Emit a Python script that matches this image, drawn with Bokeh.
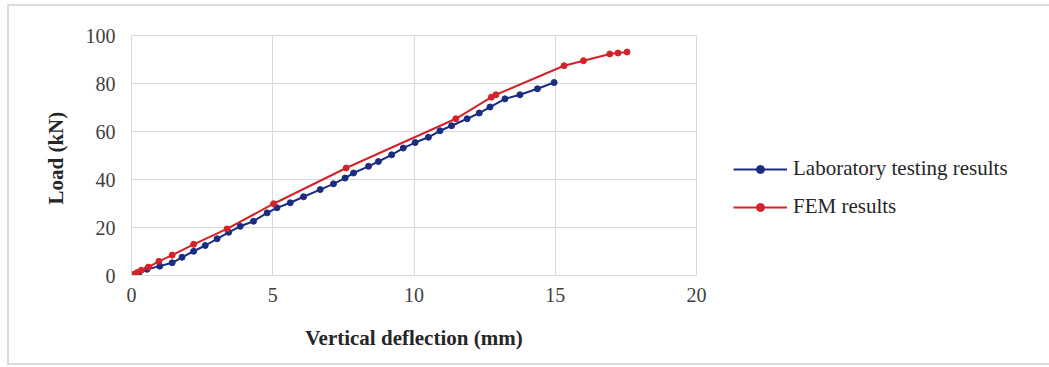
from bokeh.plotting import figure
from bokeh.models import Range1d, FixedTicker, Legend, LegendItem
from bokeh.embed import file_html
from bokeh.resources import INLINE

# Data
lab_x = [0.0, 0.25, 0.55, 1.0, 1.44, 1.79, 2.2, 2.61, 3.03, 3.44, 3.85, 4.32, 4.8, 5.15,
         5.62, 6.09, 6.68, 7.15, 7.56, 7.86, 8.39, 8.74, 9.21, 9.62, 10.04, 10.51, 10.92,
         11.33, 11.88, 12.31, 12.69, 13.22, 13.75, 14.37, 14.96]
lab_y = [0.0, 0.8, 2.6, 3.9, 5.3, 7.6, 10.1, 12.5, 15.3, 18.0, 20.5, 22.6, 26.1, 28.2,
         30.3, 32.8, 35.8, 38.2, 40.6, 42.7, 45.5, 47.5, 50.3, 53.1, 55.4, 57.6, 60.3,
         62.4, 65.3, 67.7, 70.2, 73.6, 75.3, 77.8, 80.4]

fem_x = [0.0, 0.08, 0.2, 0.35, 0.6, 0.97, 1.44, 2.2, 3.38, 5.03, 7.6, 11.48, 12.74, 12.9,
         15.31, 16.0, 16.93, 17.22, 17.54]
fem_y = [0.0, 0.5, 1.2, 2.2, 3.5, 5.9, 8.5, 13.0, 19.4, 29.9, 44.8, 65.3, 74.3, 75.3,
         87.4, 89.5, 92.3, 92.7, 93.1]

x_ticks = [0, 5, 10, 15, 20]
y_ticks = [0, 20, 40, 60, 80, 100]

series_names = ["Laboratory testing results", "FEM results"]
x_title = "Vertical deflection (mm)"
y_title = "Load  (kN)"

BLUE = "#1c2c7e"
RED = "#d2232a"
FONT = "Liberation Serif"

p = figure(frame_width=565, frame_height=240, output_backend="svg", toolbar_location=None,
           x_range=Range1d(0, 20), y_range=Range1d(0, 100),
           min_border_left=122, min_border_right=348, min_border_top=29, min_border_bottom=88)
p.styles = {"border": "2px solid #dcdcdc", "margin-left": "7px", "margin-top": "4px"}

p.outline_line_color = "#d9d9d9"
p.background_fill_color = "white"
p.border_fill_color = "white"

for ax in (p.xaxis[0], p.yaxis[0]):
    ax.axis_line_color = "#d9d9d9"
    ax.major_tick_line_color = None
    ax.minor_tick_line_color = None
    ax.major_tick_out = 0
    ax.major_tick_in = 0
    ax.major_label_text_font = FONT
    ax.major_label_text_font_size = "20px"
    ax.major_label_text_color = "#404040"
    ax.axis_label_text_font = FONT
    ax.axis_label_text_font_size = "21px"
    ax.axis_label_text_font_style = "bold"
    ax.axis_label_text_color = "#262626"

p.xaxis.ticker = FixedTicker(ticks=x_ticks)
p.yaxis.ticker = FixedTicker(ticks=y_ticks)
p.xaxis.axis_label = x_title
p.yaxis.axis_label = y_title
p.xaxis.major_label_standoff = 12
p.xaxis.axis_label_standoff = 21
p.yaxis.major_label_standoff = 16
p.yaxis.axis_label_standoff = 15

p.xgrid.ticker = FixedTicker(ticks=x_ticks)
p.ygrid.ticker = FixedTicker(ticks=y_ticks)
p.xgrid.grid_line_color = "#d9d9d9"
p.ygrid.grid_line_color = "#d9d9d9"

l1 = p.line(lab_x, lab_y, line_color=BLUE, line_width=2)
c1 = p.scatter(lab_x, lab_y, size=6, fill_color=BLUE, line_color=BLUE)
l2 = p.line(fem_x, fem_y, line_color=RED, line_width=2)
c2 = p.scatter(fem_x, fem_y, size=6, fill_color=RED, line_color=RED)

legend = Legend(items=[LegendItem(label=series_names[0], renderers=[l1, c1]),
                       LegendItem(label=series_names[1], renderers=[l2, c2])],
                location=(37, 56))
legend.border_line_color = None
legend.background_fill_alpha = 0
legend.padding = 0
legend.margin = 0
legend.spacing = 13
legend.glyph_width = 54
legend.glyph_height = 20
legend.label_height = 20
legend.label_standoff = 6
legend.label_text_font = FONT
legend.label_text_font_size = "21px"
legend.label_text_color = "#262626"
legend.label_text_baseline = "middle"
p.add_layout(legend, "right")

open("out.html", "w").write(file_html(p, INLINE))
